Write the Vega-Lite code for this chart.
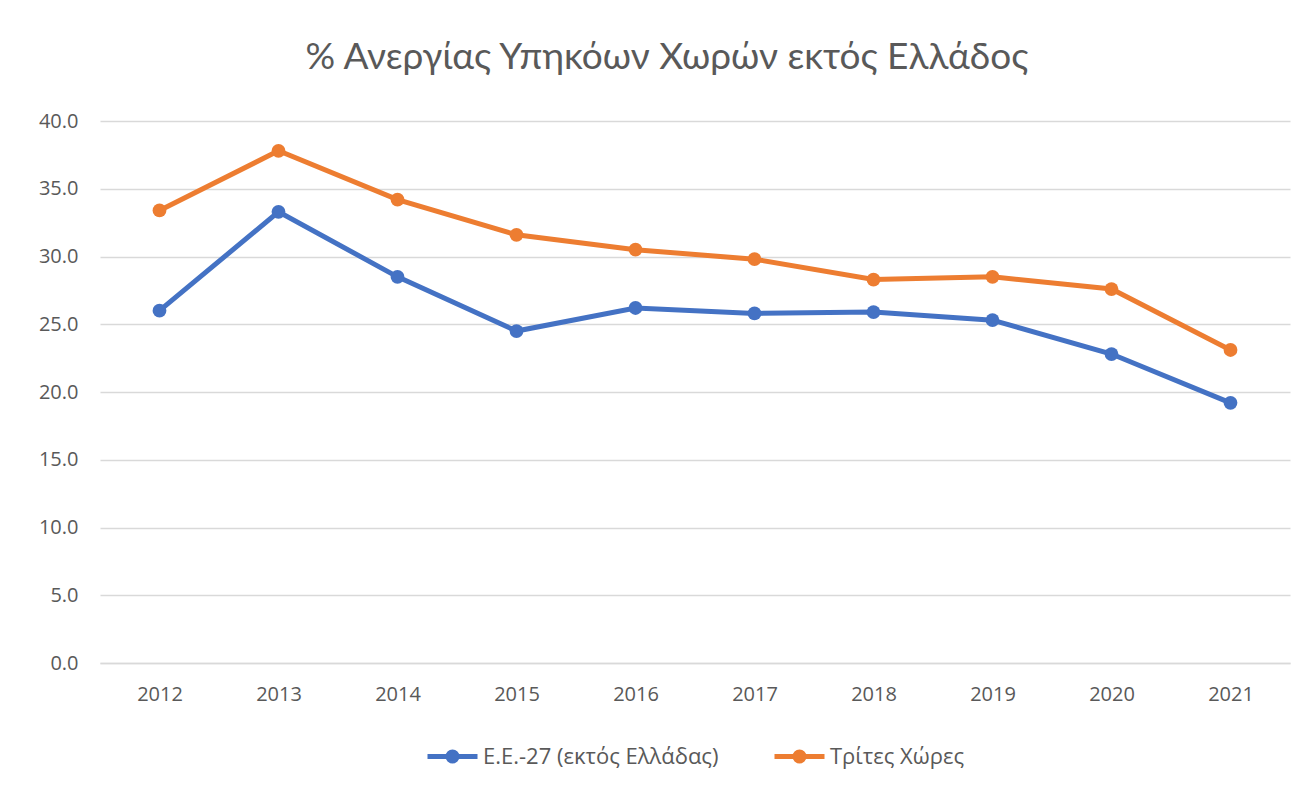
{
  "$schema": "https://vega.github.io/schema/vega-lite/v6.json",
  "width": 1190,
  "height": 542,
  "autosize": {"type": "none"},
  "padding": {"left": 100, "top": 121, "right": 24, "bottom": 127},
  "background": "white",
  "config": {"view": {"stroke": null}, "legend": {"layout": {"bottom": {"anchor": "middle"}}}},
  "title": {
    "text": "% Ανεργίας Υπηκόων Χωρών εκτός Ελλάδος",
    "font": "Lato",
    "fontSize": 37,
    "fontWeight": "normal",
    "color": "#595959",
    "anchor": "middle",
    "dx": -28,
    "offset": 34
  },
  "data": {
    "values": [
      {"year": "2012", "series": "Ε.Ε.-27 (εκτός Ελλάδας)", "value": 26.0},
      {"year": "2013", "series": "Ε.Ε.-27 (εκτός Ελλάδας)", "value": 33.3},
      {"year": "2014", "series": "Ε.Ε.-27 (εκτός Ελλάδας)", "value": 28.5},
      {"year": "2015", "series": "Ε.Ε.-27 (εκτός Ελλάδας)", "value": 24.5},
      {"year": "2016", "series": "Ε.Ε.-27 (εκτός Ελλάδας)", "value": 26.2},
      {"year": "2017", "series": "Ε.Ε.-27 (εκτός Ελλάδας)", "value": 25.8},
      {"year": "2018", "series": "Ε.Ε.-27 (εκτός Ελλάδας)", "value": 25.9},
      {"year": "2019", "series": "Ε.Ε.-27 (εκτός Ελλάδας)", "value": 25.3},
      {"year": "2020", "series": "Ε.Ε.-27 (εκτός Ελλάδας)", "value": 22.8},
      {"year": "2021", "series": "Ε.Ε.-27 (εκτός Ελλάδας)", "value": 19.2},
      {"year": "2012", "series": "Τρίτες Χώρες", "value": 33.4},
      {"year": "2013", "series": "Τρίτες Χώρες", "value": 37.8},
      {"year": "2014", "series": "Τρίτες Χώρες", "value": 34.2},
      {"year": "2015", "series": "Τρίτες Χώρες", "value": 31.6},
      {"year": "2016", "series": "Τρίτες Χώρες", "value": 30.5},
      {"year": "2017", "series": "Τρίτες Χώρες", "value": 29.8},
      {"year": "2018", "series": "Τρίτες Χώρες", "value": 28.3},
      {"year": "2019", "series": "Τρίτες Χώρες", "value": 28.5},
      {"year": "2020", "series": "Τρίτες Χώρες", "value": 27.6},
      {"year": "2021", "series": "Τρίτες Χώρες", "value": 23.1}
    ]
  },
  "encoding": {
    "x": {
      "field": "year",
      "type": "ordinal",
      "scale": {"type": "point", "padding": 0.5},
      "axis": {
        "title": null,
        "labelAngle": 0,
        "labelFont": "Open Sans",
        "labelFontSize": 20,
        "labelColor": "#595959",
        "labelPadding": 21,
        "ticks": false,
        "domainColor": "#d9d9d9",
        "domainWidth": 1.5,
        "grid": false
      }
    },
    "y": {
      "field": "value",
      "type": "quantitative",
      "scale": {"domain": [0, 40]},
      "axis": {
        "title": null,
        "values": [0, 5, 10, 15, 20, 25, 30, 35, 40],
        "format": ".1f",
        "labelFont": "Open Sans",
        "labelFontSize": 20,
        "labelColor": "#595959",
        "labelPadding": 22,
        "ticks": false,
        "domain": false,
        "gridColor": "#d9d9d9",
        "gridWidth": 1.5
      }
    },
    "color": {
      "field": "series",
      "type": "nominal",
      "scale": {
        "domain": ["Ε.Ε.-27 (εκτός Ελλάδας)", "Τρίτες Χώρες"],
        "range": ["#4472C4", "#ED7D31"]
      },
      "legend": {
        "title": null,
        "orient": "bottom",
        "direction": "horizontal",
        "offset": 25,
        "labelFont": "Open Sans",
        "labelFontSize": 22,
        "labelColor": "#595959",
        "labelOffset": 3,
        "labelLimit": 500,
        "columnPadding": 45,
        "symbolType": "M-1,0L1,0M-0.18,0A0.18,0.18 0 1,1 0.18,0A0.18,0.18 0 1,1 -0.18,0Z",
        "symbolSize": 2500,
        "symbolStrokeWidth": 5
      }
    }
  },
  "layer": [
    {"mark": {"type": "line", "strokeWidth": 5}},
    {"mark": {"type": "point", "filled": true, "size": 190, "opacity": 1}}
  ]
}
